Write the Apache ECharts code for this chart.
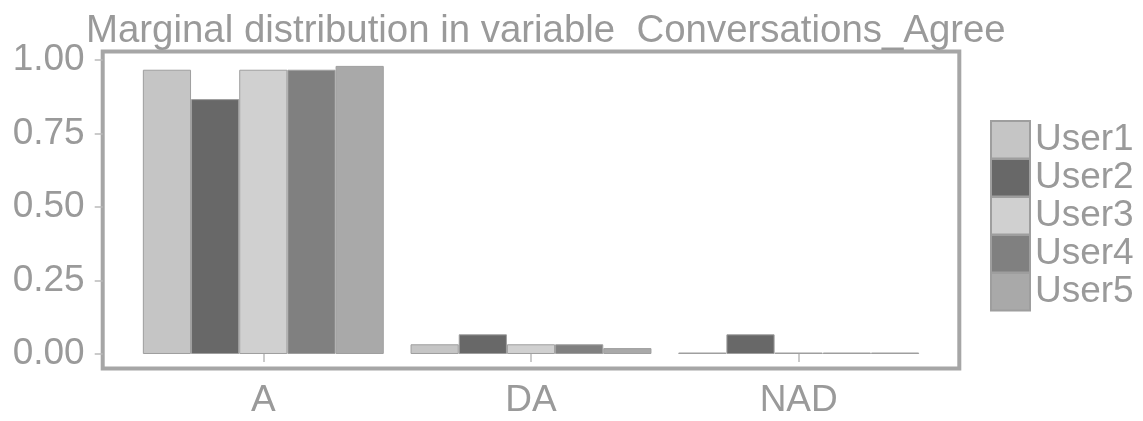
<!DOCTYPE html>
<html>
<head>
<meta charset="utf-8">
<script src="https://cdn.jsdelivr.net/npm/echarts@6/dist/echarts.min.js"></script>
<style>
  html, body { margin: 0; padding: 0; background: #fff; }
  #chart { width: 1143px; height: 421px; }
</style>
</head>
<body>
<div id="chart"></div>
<script>
const titleText = 'Marginal distribution in variable  Conversations_Agree';
const categories = ['A', 'DA', 'NAD'];
const users = ['User1', 'User2', 'User3', 'User4', 'User5'];
const user1 = [0.967, 0.033, 0.005];
const user2 = [0.867, 0.067, 0.067];
const user3 = [0.967, 0.033, 0.005];
const user4 = [0.967, 0.033, 0.005];
const user5 = [0.980, 0.020, 0.005];
const yTicks = [0, 0.25, 0.5, 0.75, 1.0];
const colors = ['#c5c5c5', '#686868', '#d0d0d0', '#808080', '#a9a9a9'];

const values = [user1, user2, user3, user4, user5];
const yMax = Math.max(...values.flat());
const pad = 0.05 * yMax;
const xPos = categories.map((c, i) => i + 1);

const FONT = '"Liberation Sans", Arial, sans-serif';
const TXT = '#9a9a9a';

const chart = echarts.init(document.getElementById('chart'), null, { renderer: 'canvas' });
chart.setOption({
  animation: false,
  backgroundColor: '#ffffff',
  textStyle: { fontFamily: FONT },
  title: {
    text: titleText,
    left: 86,
    top: 12,
    padding: 0,
    textStyle: { fontFamily: FONT, fontSize: 38.4, fontWeight: 'normal', color: TXT }
  },
  legend: {
    orient: 'vertical',
    left: 990,
    top: 120,
    padding: 0,
    itemGap: -1.6,
    itemWidth: 39,
    itemHeight: 37.6,
    icon: 'rect',
    data: users,
    textStyle: { fontFamily: FONT, fontSize: 37, color: TXT, lineHeight: 30 }
  },
  grid: {
    left: 102.7,
    right: 183.7,
    top: 51.5,
    bottom: 52.6,
    show: true,
    borderColor: '#a6a6a6',
    borderWidth: 4,
    backgroundColor: 'transparent'
  },
  xAxis: {
    type: 'value',
    min: 0.4,
    max: categories.length + 0.6,
    axisLine: { show: false },
    splitLine: { show: false },
    axisTick: { show: true, length: 8, customValues: xPos, lineStyle: { color: '#bbbbbb', width: 1.5 } },
    axisLabel: {
      customValues: xPos,
      margin: 14,
      fontFamily: FONT,
      fontSize: 37,
      color: TXT,
      formatter: v => categories[Math.round(v) - 1] || ''
    }
  },
  yAxis: {
    type: 'value',
    min: -pad,
    max: yMax + pad,
    axisLine: { show: false },
    splitLine: { show: false },
    axisTick: { show: true, length: 8, customValues: yTicks, lineStyle: { color: '#bbbbbb', width: 1.5 } },
    axisLabel: {
      customValues: yTicks,
      margin: 18,
      fontFamily: FONT,
      fontSize: 37,
      color: TXT,
      padding: [4, 0, 0, 0],
      formatter: v => v.toFixed(2)
    }
  },
  series: users.map((u, k) => ({
    name: u,
    type: 'bar',
    barGap: '0%',
    barCategoryGap: '10%',
    itemStyle: { color: colors[k], borderColor: '#9e9e9e', borderWidth: 1 },
    data: xPos.map((x, i) => [x, values[k][i]])
  }))
});
</script>
</body>
</html>
